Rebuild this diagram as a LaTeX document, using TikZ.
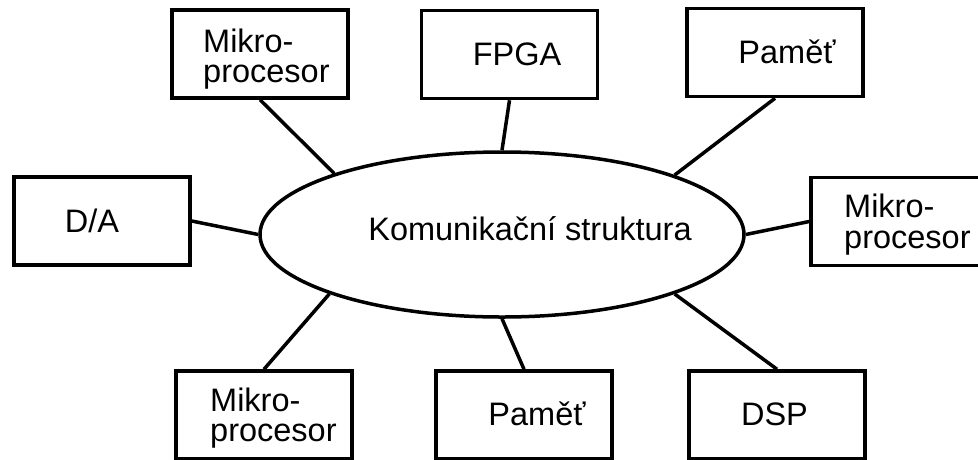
\documentclass[tikz,border=0pt]{standalone}
\usepackage{fontspec}
\setmainfont{Liberation Sans}
\usetikzlibrary{shapes.geometric}
\begin{document}
\begin{tikzpicture}[x=1pt,y=-1pt,
  unit/.style={draw=black,line width=3.5pt,rectangle,minimum width=176pt,minimum height=88pt,inner sep=0pt},
  bus/.style={draw=black,line width=3.5pt,ellipse,minimum width=484pt,minimum height=165pt,inner sep=0pt},
  lbl/.style={inner sep=0pt,font=\fontsize{32.5}{32.5}\selectfont},
  link/.style={draw=black,line width=3.5pt}]
\useasboundingbox (0,0) rectangle (978,459);
\clip (0,0) rectangle (978,459);

% central communication structure
\node[bus] (e) at (502,234.5) {};
\node[lbl,anchor=base] (et) at (530,240) {Komunikační struktura};

% surrounding units
\node[unit] (tl) at (260,54) {};
\node[unit] (fp) at (509.5,54.5) {};
\node[unit] (tr) at (775,52.5) {};
\node[unit] (da) at (102,221) {};
\node[unit] (rm) at (899,221.5) {};
\node[unit] (bl) at (264,415) {};
\node[unit] (bm) at (524,415) {};
\node[unit] (ds) at (777,415) {};

% unit labels
\node[lbl,anchor=base west] (tl1) at (203,52) {Mikro-};
\node[lbl,anchor=base west] (tl2) at (203,82) {procesor};
\node[lbl,anchor=base] (fpt) at (517,65) {FPGA};
\node[lbl,anchor=base] (trt) at (787,63) {Paměť};
\node[lbl,anchor=base] (dat) at (92,232) {D/A};
\node[lbl,anchor=base west] (rm1) at (844,217) {Mikro-};
\node[lbl,anchor=base west] (rm2) at (844,248) {procesor};
\node[lbl,anchor=base west] (bl1) at (210,411) {Mikro-};
\node[lbl,anchor=base west] (bl2) at (210,441) {procesor};
\node[lbl,anchor=base] (bmt) at (537,425) {Paměť};
\node[lbl,anchor=base] (dst) at (774.5,425) {DSP};

% connections to the structure
\draw[link] (tl.south) -- (e.160.7);
\draw[link] (fp.south) -- (e.90);
\draw[link] (tr.south) -- (e.19.3);
\draw[link] (da.east) -- (e.180);
\draw[link] (rm.west) -- (e.0);
\draw[link] (bl.north) -- (e.199.1);
\draw[link] (bm.north) -- (e.270);
\draw[link] (ds.north) -- (e.341.4);
\end{tikzpicture}
\end{document}
